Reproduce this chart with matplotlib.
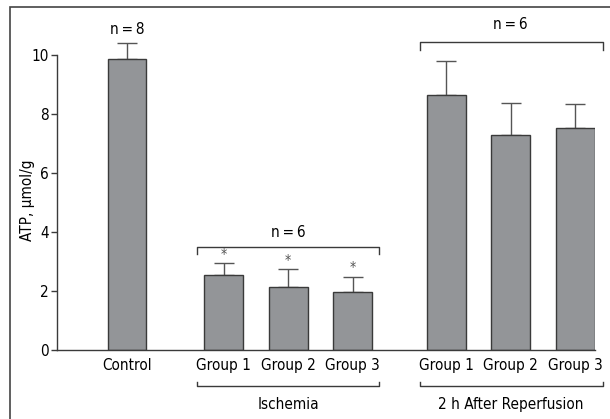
import matplotlib.pyplot as plt
from matplotlib.patches import Rectangle

plt.rcParams['font.family'] = ['DejaVu Sans']
plt.rcParams['font.stretch'] = 'condensed'

labels = ['Control', 'Group 1', 'Group 2', 'Group 3', 'Group 1', 'Group 2', 'Group 3']
atp = [9.85, 2.53, 2.15, 1.98, 8.64, 7.29, 7.51]
sem = [0.55, 0.41, 0.58, 0.51, 1.17, 1.09, 0.84]
stars = ['', '*', '*', '*', '', '', '']
group_names = ['Ischemia', '2 h After Reperfusion']
n_labels = ['n\u2009=\u20098', 'n\u2009=\u20096', 'n\u2009=\u20096']

W, H = 610, 419
fig = plt.figure(figsize=(W / 100, H / 100), dpi=100)

# axes placed in pixel terms: y=0 at px 350, 29.5 px per unit
unit = 64.5
x0_px = 127
ax_left, ax_right = 57, 595
ax = fig.add_axes([ax_left / W, (H - 350) / H, (ax_right - ax_left) / W, 350 / H])
ax.set_xlim((ax_left - x0_px) / unit, (ax_right - x0_px) / unit)
ax.set_ylim(0, 350 / 29.5)

xpos = [0, 1.5, 2.5, 3.5, 4.95, 5.95, 6.95]
dark = '#3a3a3a'
ax.bar(xpos, atp, width=0.6, color='#939598', edgecolor=dark, linewidth=1.0, zorder=2)
ax.errorbar(xpos, atp, yerr=[[0] * len(sem), sem], fmt='none', ecolor='#555555',
            elinewidth=1.0, capsize=7.3, capthick=1.0, zorder=1)

for x, y, e, s in zip(xpos, atp, sem, stars):
    if s:
        ax.annotate(s, (x, y + e), xytext=(0, 7), textcoords='offset points',
                    ha='center', va='center', fontsize=10, color='#555555')

for sp in ['top', 'right']:
    ax.spines[sp].set_visible(False)
ax.spines['left'].set_bounds(0, 10)
for sp in ['left', 'bottom']:
    ax.spines[sp].set_color(dark)
    ax.spines[sp].set_linewidth(1.0)

ax.set_yticks([0, 2, 4, 6, 8, 10])
ax.tick_params(axis='y', length=4, width=1, color=dark, labelsize=11, pad=2)
ax.set_xticks(xpos)
ax.set_xticklabels(labels, fontsize=11)
ax.tick_params(axis='x', length=0, pad=6)
ax.set_ylabel('ATP, µmol/g', fontsize=11)
ax.yaxis.set_label_coords((35 - ax_left) / (ax_right - ax_left), 5.08 / (350 / 29.5))


def bracket(xa, xb, y, drop, **kw):
    ax.plot([xa, xa, xb, xb], [y - drop, y, y, y - drop], color=dark, lw=1.0,
            clip_on=False, **kw)


# top brackets with n labels
ax.text(0, 10.88, n_labels[0], ha='center', va='center', fontsize=11)
bracket(1.08, 3.91, 3.48, 0.22)
ax.text(2.5, 3.97, n_labels[1], ha='center', va='center', fontsize=11)
bracket(4.54, 7.375, 10.43, 0.26)
ax.text(5.95, 11.02, n_labels[2], ha='center', va='center', fontsize=11)

# bottom brackets with group names
bracket(1.08, 3.91, -1.21, -0.14)
ax.text(2.5, -2.0, group_names[0], ha='center', va='baseline', fontsize=11)
bracket(4.54, 7.375, -1.21, -0.14)
ax.text(5.95, -2.0, group_names[1], ha='center', va='baseline', fontsize=11)

# outer frame (cropped at right and bottom)
fig.patches.append(Rectangle((10 / W, -0.1), 1.2, (H - 7) / H + 0.1,
                             transform=fig.transFigure, fill=False,
                             edgecolor='#444444', linewidth=1.2))

fig.savefig('out.png', dpi=100)
